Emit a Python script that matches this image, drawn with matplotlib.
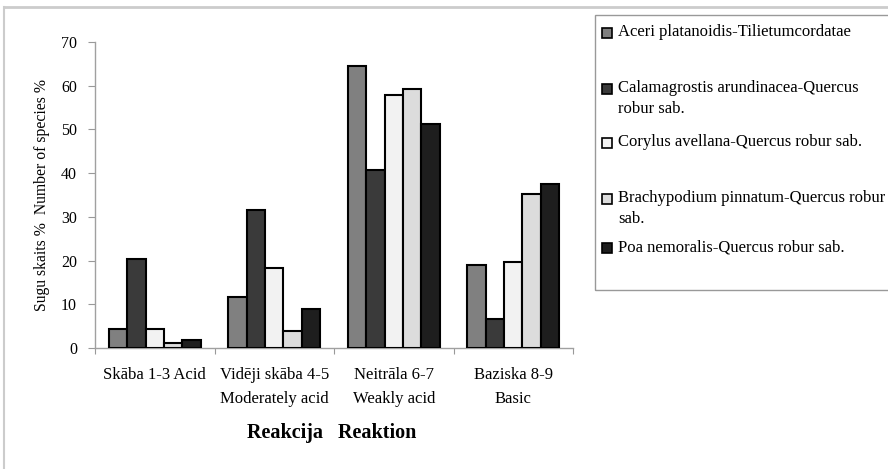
import numpy as np
import matplotlib.pyplot as plt
from matplotlib.lines import Line2D
from matplotlib.patches import Rectangle

categories = ["Skāba 1-3 Acid", "Vidēji skāba 4-5\nModerately acid",
              "Neitrāla 6-7\nWeakly acid", "Baziska 8-9\nBasic"]
series_names = ["Aceri platanoidis-Tilietumcordatae",
                "Calamagrostis arundinacea-Quercus\nrobur sab.",
                "Corylus avellana-Quercus robur sab.",
                "Brachypodium pinnatum-Quercus robur\nsab.",
                "Poa nemoralis-Quercus robur sab."]
aceri = [4.4, 11.6, 64.5, 19.1]
calamagrostis = [20.4, 31.6, 40.8, 6.7]
corylus = [4.4, 18.4, 57.8, 19.6]
brachypodium = [1.1, 4.0, 59.3, 35.3]
poa = [1.9, 8.9, 51.3, 37.6]
colors = ["#808080", "#3a3a3a", "#f2f2f2", "#dcdcdc", "#1e1e1e"]

plt.rcParams['font.family'] = ['Liberation Serif', 'DejaVu Serif']

W, H = 888, 469
fig = plt.figure(figsize=(W / 100, H / 100), dpi=100)
ax = fig.add_axes([95 / W, 1 - 348 / H, (573 - 95) / W, (348 - 42) / H])

data = [aceri, calamagrostis, corylus, brachypodium, poa]
n = len(data)
bw = 1 / (n + 1.5)
x = np.arange(len(categories))
for i, vals in enumerate(data):
    ax.bar(x - n * bw / 2 + (i + 0.5) * bw, vals, bw, color=colors[i],
           edgecolor="black", linewidth=1.5, zorder=3)

ax.set_xlim(-0.5, len(categories) - 0.5)
ax.set_ylim(0, 70)
ax.set_yticks(range(0, 71, 10))
ax.tick_params(axis="y", direction="out", length=5, width=0.8, color="#999999",
               labelsize=11.5, pad=8)
ax.set_xticks(x)
ax.set_xticklabels(categories, fontsize=12, linespacing=1.6, va="top")
ax.tick_params(axis="x", length=0, pad=14)
ax.set_xticks(np.arange(-0.5, len(categories), 1), minor=True)
ax.tick_params(axis="x", which="minor", direction="out", length=4, width=0.8,
               color="#999999")
for s in ["top", "right"]:
    ax.spines[s].set_visible(False)
for s in ["left", "bottom"]:
    ax.spines[s].set_color("#a0a0a0")
    ax.spines[s].set_linewidth(1.0)

ax.set_ylabel("Sugu skaits %  Number of species %", fontsize=11.3, labelpad=8)
fig.text(332 / W, 1 - 433 / H, "Reakcija   Reaktion", fontsize=14.5,
         fontweight="bold", ha="center", va="center")

# outer frame (partly cropped)
fig.add_artist(Line2D([4 / W, 1], [1 - 7 / H, 1 - 7 / H], color="#cccccc", lw=2))
fig.add_artist(Line2D([4 / W, 4 / W], [0, 1 - 7 / H], color="#cccccc", lw=1.5))

# legend box
fig.add_artist(Rectangle((595 / W, 1 - 290 / H), (900 - 595) / W, 275 / H,
                         transform=fig.transFigure, fill=False,
                         edgecolor="#999999", lw=1))
marker_y = [33, 89, 143, 199, 248]
for name, c, my in zip(series_names, colors, marker_y):
    fig.add_artist(Rectangle((602 / W, 1 - (my + 5) / H), 10 / W, 10 / H,
                             transform=fig.transFigure, facecolor=c,
                             edgecolor="black", lw=1.2))
    fig.text(618 / W, 1 - (my - 9) / H, name, fontsize=12, ha="left",
             va="top", linespacing=1.45)

fig.savefig("out.png", dpi=100)
